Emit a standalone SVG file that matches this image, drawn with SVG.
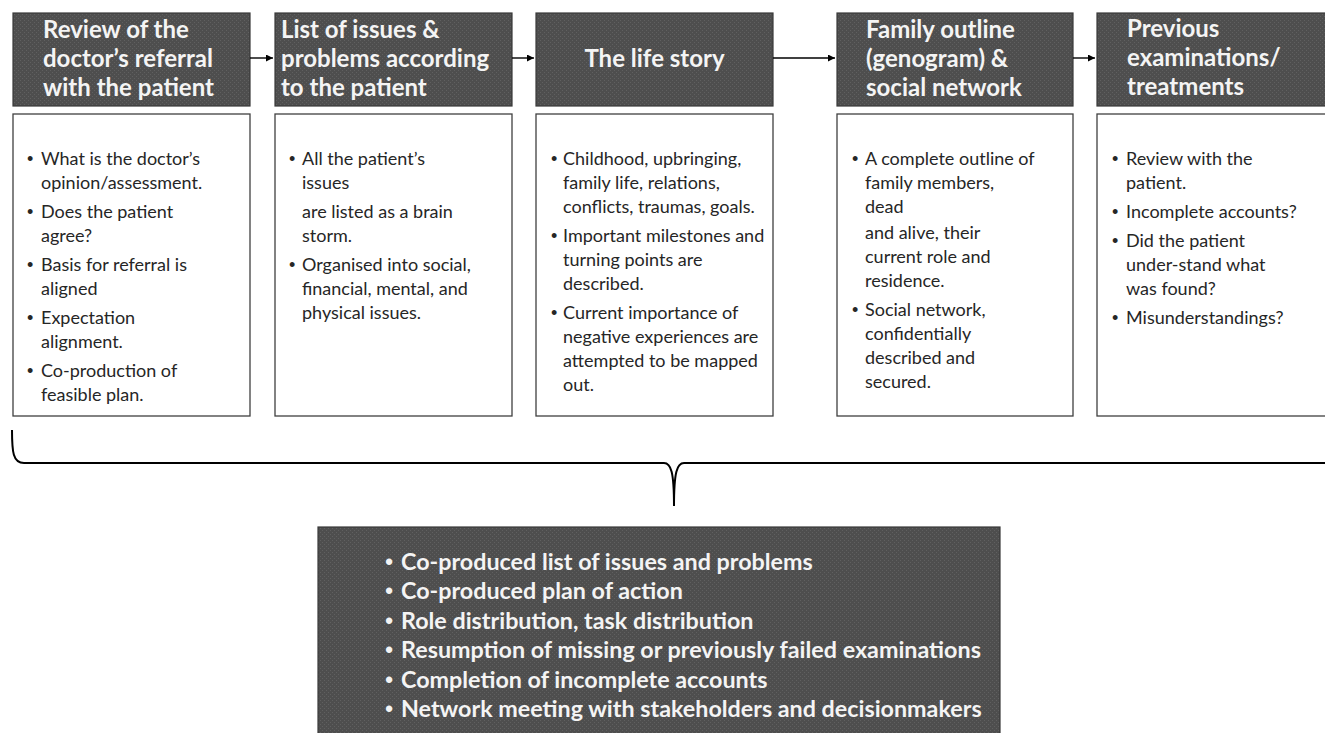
<svg xmlns="http://www.w3.org/2000/svg" width="1325" height="733" viewBox="0 0 1325 733">
  <style>
    .head { stroke: #3a3a3a; stroke-width: 1.2; }
    .card { fill: #ffffff; stroke: #404040; stroke-width: 1.3; }
    .ht { font-family: Lato, "Liberation Sans", sans-serif; font-weight: 700; font-size: 24px; fill: #f4f4f4; }
    .bt { font-family: Lato, "Liberation Sans", sans-serif; font-size: 18px; fill: #262626; }
    .st { font-family: Lato, "Liberation Sans", sans-serif; font-weight: 700; font-size: 23.3px; fill: #f4f4f4; }
    .dot { font-family: "Liberation Sans", sans-serif; font-weight: 400; }
    .flow { stroke: #000000; stroke-width: 1.4; fill: none; }
    .brace { stroke: #000000; stroke-width: 2; fill: none; }
  </style>
  <defs>
    <pattern id="grain" width="4" height="4" patternUnits="userSpaceOnUse">
      <rect width="4" height="4" fill="#4e4e4e"/>
      <rect x="0" y="0" width="1" height="1" fill="#606060"/>
      <rect x="2" y="2" width="1" height="1" fill="#606060"/>
    </pattern>
    <marker id="arrow" viewBox="0 0 10 10" refX="10" refY="5" markerWidth="7" markerHeight="7" markerUnits="userSpaceOnUse" orient="auto">
      <path d="M0,0 L10,5 L0,10 z" fill="#000000"/>
    </marker>
  </defs>

  <!-- Step 1 -->
  <g id="step-referral">
    <rect class="head" x="13" y="13" width="237" height="93" fill="url(#grain)"/>
    <text class="ht" x="43" y="38">Review of the</text>
    <text class="ht" x="43" y="67">doctor’s referral</text>
    <text class="ht" x="43" y="96">with the patient</text>
    <rect class="card" x="13" y="114" width="237" height="302"/>
    <g class="bt">
      <text class="dot" x="27" y="165">•</text><text x="41" y="165">What is the doctor’s</text>
      <text x="41" y="189">opinion/assessment.</text>
      <text class="dot" x="27" y="218">•</text><text x="41" y="218">Does the patient</text>
      <text x="41" y="242">agree?</text>
      <text class="dot" x="27" y="271">•</text><text x="41" y="271">Basis for referral is</text>
      <text x="41" y="295">aligned</text>
      <text class="dot" x="27" y="324">•</text><text x="41" y="324">Expectation</text>
      <text x="41" y="348">alignment.</text>
      <text class="dot" x="27" y="377">•</text><text x="41" y="377">Co-production of</text>
      <text x="41" y="401">feasible plan.</text>
    </g>
  </g>

  <!-- Step 2 -->
  <g id="step-issues">
    <rect class="head" x="275" y="13" width="237" height="93" fill="url(#grain)"/>
    <text class="ht" x="281" y="38">List of issues &amp;</text>
    <text class="ht" x="281" y="67">problems according</text>
    <text class="ht" x="281" y="96">to the patient</text>
    <rect class="card" x="275" y="114" width="237" height="302"/>
    <g class="bt">
      <text class="dot" x="289" y="165">•</text><text x="302" y="165">All the patient’s</text>
      <text x="302" y="189">issues</text>
      <text x="302" y="218">are listed as a brain</text>
      <text x="302" y="242">storm.</text>
      <text class="dot" x="289" y="271">•</text><text x="302" y="271">Organised into social,</text>
      <text x="302" y="295">financial, mental, and</text>
      <text x="302" y="319">physical issues.</text>
    </g>
  </g>

  <!-- Step 3 -->
  <g id="step-life-story">
    <rect class="head" x="536" y="13" width="237" height="93" fill="url(#grain)"/>
    <text class="ht" x="654.5" y="67" text-anchor="middle">The life story</text>
    <rect class="card" x="536" y="114" width="237" height="302"/>
    <g class="bt">
      <text class="dot" x="551" y="165">•</text><text x="563" y="165">Childhood, upbringing,</text>
      <text x="563" y="189">family life, relations,</text>
      <text x="563" y="213">conflicts, traumas, goals.</text>
      <text class="dot" x="551" y="242">•</text><text x="563" y="242">Important milestones and</text>
      <text x="563" y="266">turning points are</text>
      <text x="563" y="290">described.</text>
      <text class="dot" x="551" y="319">•</text><text x="563" y="319">Current importance of</text>
      <text x="563" y="343">negative experiences  are</text>
      <text x="563" y="367">attempted to be mapped</text>
      <text x="563" y="391">out.</text>
    </g>
  </g>

  <!-- Step 4 -->
  <g id="step-family">
    <rect class="head" x="837" y="13" width="236" height="93" fill="url(#grain)"/>
    <text class="ht" x="866" y="38">Family outline</text>
    <text class="ht" x="866" y="67">(genogram) &amp;</text>
    <text class="ht" x="866" y="96">social network</text>
    <rect class="card" x="837" y="114" width="236" height="302"/>
    <g class="bt">
      <text class="dot" x="852" y="165">•</text><text x="865" y="165">A complete outline of</text>
      <text x="865" y="189">family members,</text>
      <text x="865" y="213">dead</text>
      <text x="865" y="239">and alive, their</text>
      <text x="865" y="263">current role and</text>
      <text x="865" y="287">residence.</text>
      <text class="dot" x="852" y="316">•</text><text x="865" y="316">Social network,</text>
      <text x="865" y="340">confidentially</text>
      <text x="865" y="364">described and</text>
      <text x="865" y="388">secured.</text>
    </g>
  </g>

  <!-- Step 5 -->
  <g id="step-previous">
    <rect class="head" x="1097" y="13" width="240" height="93" fill="url(#grain)"/>
    <text class="ht" x="1127" y="37">Previous</text>
    <text class="ht" x="1127" y="66">examinations/</text>
    <text class="ht" x="1127" y="95">treatments</text>
    <rect class="card" x="1097" y="114" width="240" height="302"/>
    <g class="bt">
      <text class="dot" x="1112" y="165">•</text><text x="1126" y="165">Review with the</text>
      <text x="1126" y="189">patient.</text>
      <text class="dot" x="1112" y="218">•</text><text x="1126" y="218">Incomplete accounts?</text>
      <text class="dot" x="1112" y="247">•</text><text x="1126" y="247">Did the patient</text>
      <text x="1126" y="271">under-stand what</text>
      <text x="1126" y="295">was found?</text>
      <text class="dot" x="1112" y="324">•</text><text x="1126" y="324">Misunderstandings?</text>
    </g>
  </g>

  <!-- Outcome -->
  <g id="outcome">
    <rect class="head" x="318" y="527" width="682" height="220" fill="url(#grain)"/>
    <g class="st">
      <text class="dot" x="385" y="570">•</text><text x="401" y="570">Co-produced list of issues and problems</text>
      <text class="dot" x="385" y="599">•</text><text x="401" y="599">Co-produced plan of action</text>
      <text class="dot" x="385" y="629">•</text><text x="401" y="629">Role distribution, task distribution</text>
      <text class="dot" x="385" y="658">•</text><text x="401" y="658">Resumption of missing or previously failed examinations</text>
      <text class="dot" x="385" y="688">•</text><text x="401" y="688">Completion of incomplete accounts</text>
      <text class="dot" x="385" y="717">•</text><text x="401" y="717">Network meeting with stakeholders and decisionmakers</text>
    </g>
  </g>

  <!-- Connectors -->
  <g id="connectors">
    <line class="flow" x1="250" y1="58" x2="273" y2="58" marker-end="url(#arrow)"/>
    <line class="flow" x1="512" y1="58" x2="534" y2="58" marker-end="url(#arrow)"/>
    <line class="flow" x1="773" y1="58" x2="835" y2="58" marker-end="url(#arrow)"/>
    <line class="flow" x1="1073" y1="58" x2="1095" y2="58" marker-end="url(#arrow)"/>
    <path class="brace" d="M12,430 C12,452 13,463 24,463 L664,463 C671,463 674,472 674,506 C674,472 677,463 684,463 L1340,463"/>
  </g>
</svg>
